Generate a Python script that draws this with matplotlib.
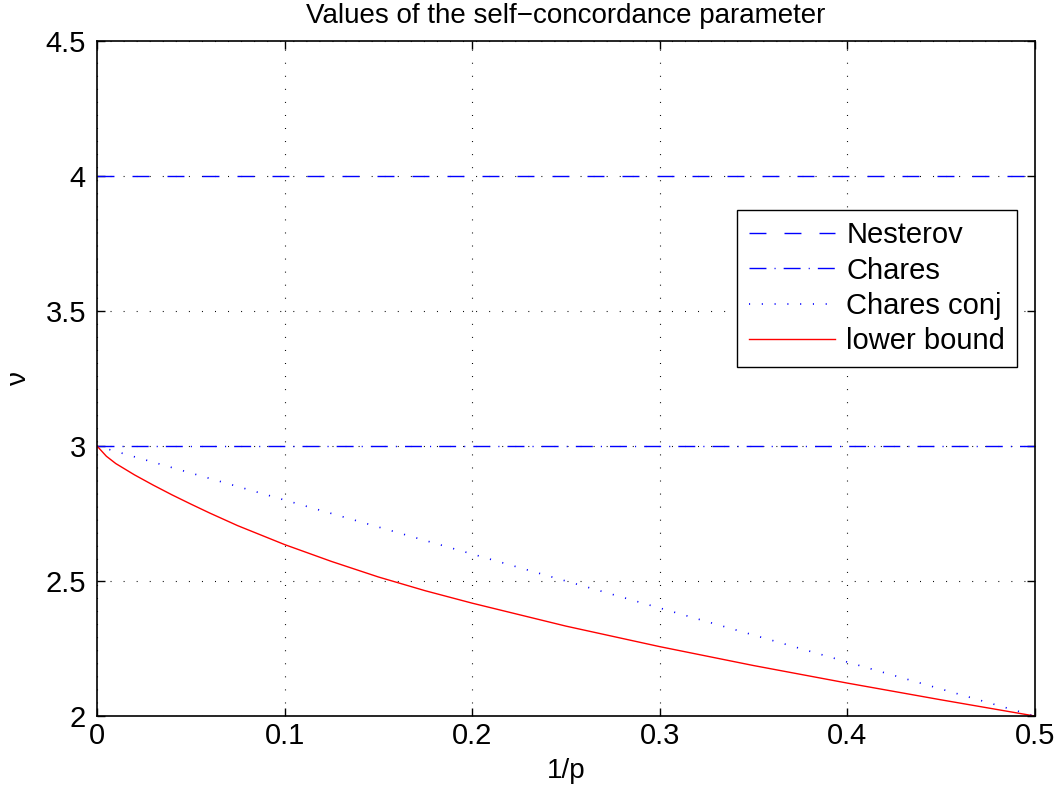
import matplotlib
matplotlib.use("Agg")
import matplotlib.pyplot as plt

# values
inv_p = [0, 0.5]
nesterov = [4, 4]
chares = [3, 3]
chares_conj = [3, 2]

lb_x = [0, 0.005, 0.01, 0.02, 0.03, 0.04, 0.05, 0.06, 0.075, 0.1, 0.125,
        0.15, 0.175, 0.2, 0.25, 0.3, 0.35, 0.4, 0.45, 0.5]
lb_y = [3.0, 2.962, 2.935, 2.893, 2.855, 2.819, 2.785, 2.752, 2.705, 2.635, 2.5725,
        2.515, 2.464, 2.418, 2.333, 2.257, 2.187, 2.122, 2.06, 2.0]

x_ticks = [0, 0.1, 0.2, 0.3, 0.4, 0.5]
x_tick_labels = ["0", "0.1", "0.2", "0.3", "0.4", "0.5"]
y_ticks = [2, 2.5, 3, 3.5, 4, 4.5]
y_tick_labels = ["2", "2.5", "3", "3.5", "4", "4.5"]

plt.rcParams["font.family"] = ["Liberation Sans", "DejaVu Sans"]
plt.rcParams["font.size"] = 20
plt.rcParams["lines.scale_dashes"] = False

fig = plt.figure(figsize=(10.58, 7.91), dpi=100)
ax = fig.add_axes([0.0917, 0.0948, 0.8863, 0.8534])

blue = "#0000ff"
ax.plot(inv_p, nesterov, color=blue, lw=1.0, linestyle=(0, (12.2, 13.0)), label="Nesterov")
ax.plot(inv_p, chares, color=blue, lw=1.0, linestyle=(0, (12.2, 5.8, 0.8, 5.8)), label="Chares")
ax.plot(inv_p, chares_conj, color=blue, lw=1.2, linestyle=(0, (0.8, 8.4)), label="Chares conj")
ax.plot(lb_x, lb_y, color="#ff0000", lw=1.0, label="lower bound")

ax.set_xlim(0, 0.5)
ax.set_ylim(2, 4.5)
ax.set_xticks(x_ticks)
ax.set_xticklabels(x_tick_labels)
ax.set_yticks(y_ticks)
ax.set_yticklabels(y_tick_labels)
ax.tick_params(direction="in", top=True, right=True, length=6, width=1, pad=8,
               labelsize=21)
ax.tick_params(axis="x", pad=4)
ax.grid(True, color="black", lw=0.8, linestyle=(0, (0.7, 8.7)))
for s in ax.spines.values():
    s.set_linewidth(1.2)

ax.set_title("Values of the self\u2212concordance parameter", fontsize=20, pad=13)
ax.set_xlabel("1/p", labelpad=6)
ax.set_ylabel("\u03bd", labelpad=10)

leg = ax.legend(loc="upper right", bbox_to_anchor=(0.981, 0.75), fancybox=False,
                framealpha=1, edgecolor="black", handlelength=2.95, borderpad=0.4,
                labelspacing=0.25, handletextpad=0.4, borderaxespad=0, fontsize=21)
leg.get_frame().set_linewidth(1.0)

fig.savefig("out.png", dpi=100)
